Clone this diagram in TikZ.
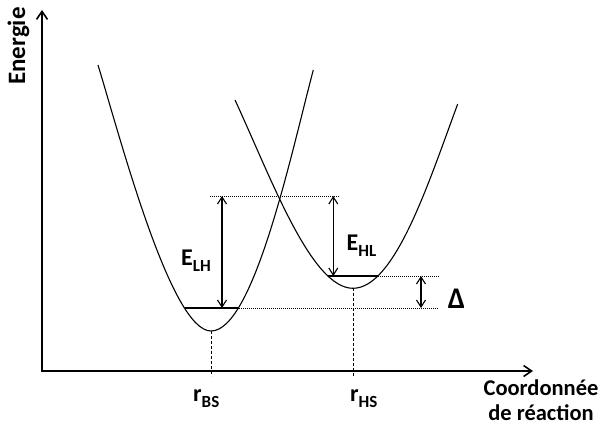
\documentclass[tikz,border=0pt]{standalone}
\usepackage{fontspec}
\setmainfont{Carlito}
\usetikzlibrary{arrows.meta}
\newcommand\mysub[1]{\raisebox{-6pt}{\fontsize{17}{17}\selectfont #1}}
\begin{document}
\begin{tikzpicture}[x=1pt,y=-1pt,
  curve/.style={line width=1.1pt},
  axes/.style={line width=1.6pt,line join=miter,{Straight Barb[length=8pt,width=11pt]}-{Straight Barb[length=8pt,width=11pt]}},
  level/.style={line width=2.2pt},
  guide/.style={line width=0.9pt,dash pattern=on 1pt off 1pt},
  drop/.style={line width=0.9pt,dash pattern=on 3pt off 2pt},
  gap/.style={line width=1.1pt,{Straight Barb[length=7pt,width=9pt]}-{Straight Barb[length=7pt,width=9pt]}},
  lbl/.style={inner sep=0pt,font=\fontsize{24}{28}\selectfont\bfseries},
  axlbl/.style={inner sep=0pt,font=\fontsize{22.5}{27}\selectfont\bfseries},
]
\useasboundingbox (0,0) rectangle (600,434);
\fill[white] (0,0) rectangle (600,434);

% axes
\coordinate (O) at (42,371);
\coordinate (ytop) at (42,10);
\coordinate (xend) at (533,371);
\draw[axes] (ytop) -- (O) -- (xend);

% potential wells
\coordinate (v1) at (211,331);
\coordinate (v2) at (353,288.3);
\draw[curve] (98,65) .. controls (120.8,140) and (171,331) .. (v1)
  .. controls (254,331) and (292,150) .. (313.3,70);
\draw[curve] (235,100) .. controls (271,177.6) and (311,288.3) .. (v2)
  .. controls (395,288.3) and (428.9,181.6) .. (457.7,104);

% levels
\coordinate (l1a) at (185,308);
\coordinate (l1b) at (239,308);
\coordinate (l1c) at (438,308);
\coordinate (l2a) at (328,276);
\coordinate (l2b) at (378,276);
\coordinate (l2c) at (440,276);
\coordinate (t1) at (210,196);
\coordinate (t2) at (340,196);
\draw[level] (l1a) -- (l1b);
\draw[level] (l2a) -- (l2b);
\draw[guide] (l1b) -- (l1c);
\draw[guide] (l2b) -- (l2c);
\draw[guide] (t1) -- (t2);

% drops to axis
\coordinate (d1) at (211,376);
\coordinate (d2) at (353,376);
\draw[drop] (v1) -- (d1);
\draw[drop] (v2) -- (d2);

% energy gaps
\coordinate (a1t) at (222,196);
\coordinate (a1b) at (222,308);
\coordinate (a2t) at (333.3,196);
\coordinate (a2b) at (333.3,276);
\coordinate (a3t) at (421,276);
\coordinate (a3b) at (421,308);
\draw[gap] (a1t) -- (a1b);
\draw[gap] (a2t) -- (a2b);
\draw[gap] (a3t) -- (a3b);

% labels
\node[lbl,anchor=base west] (elh) at (181,265) {E\mysub{LH}};
\node[lbl,anchor=base west] (ehl) at (346.5,250) {E\mysub{HL}};
\node[lbl,anchor=base west] (rbs) at (193,401.7) {r\mysub{BS}};
\node[lbl,anchor=base west] (rhs) at (350,401.7) {r\mysub{HS}};
\node[inner sep=0pt,font=\fontsize{30}{34}\selectfont\bfseries] (delta) at (456.5,298.5) {Δ};
\node[lbl,font=\fontsize{25}{28}\selectfont\bfseries,rotate=90,anchor=base] (en) at (25,46) {Energie};
\node[axlbl,anchor=base] (coord) at (541,395) {Coordonnée};
\node[axlbl,anchor=base] (reac) at (541,420) {de réaction};
\end{tikzpicture}
\end{document}
